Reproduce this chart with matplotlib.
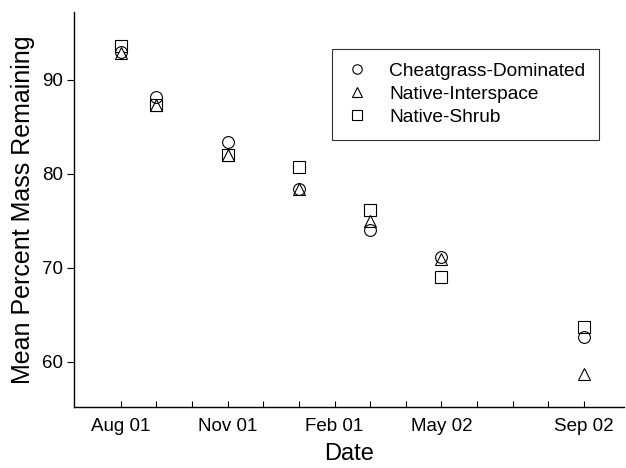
import matplotlib
matplotlib.use("Agg")
import matplotlib.pyplot as plt

plt.rcParams['font.family'] = ['Liberation Sans', 'DejaVu Sans']

# months counted from Aug 2001
months = [0, 1, 3, 5, 7, 9, 13]
cheatgrass = [93.0, 88.2, 83.4, 78.4, 74.0, 71.1, 62.6]
interspace = [92.8, 87.3, 82.0, 78.4, 75.0, 70.9, 58.7]
shrub = [93.6, 87.3, 82.0, 80.7, 76.2, 69.0, 63.7]

tick_months = [0, 3, 6, 9, 13]
tick_labels = ['Aug 01', 'Nov 01', 'Feb 01', 'May 02', 'Sep 02']
minor_months = [1, 2, 4, 5, 7, 8, 10, 11, 12]

fig = plt.figure(figsize=(6.26, 4.68), dpi=100)
ax = fig.add_axes([0.1182, 0.1303, 0.8786, 0.844])

style = dict(linestyle='none', markerfacecolor='white', markeredgecolor='black',
             markeredgewidth=0.8, markersize=8.5)
ax.plot(months, shrub, marker='s', label='Native-Shrub', zorder=3, **style)
ax.plot(months, interspace, marker='^', label='Native-Interspace', zorder=4, **style)
ax.plot(months, cheatgrass, marker='o', label='Cheatgrass-Dominated', zorder=5,
        markerfacecolor='none', markeredgecolor='black', markeredgewidth=0.8,
        markersize=8.5, linestyle='none')

ax.set_xlim(-1.31, 14.12)
ax.set_ylim(55.2, 97.2)

ax.spines['top'].set_visible(False)
ax.spines['right'].set_visible(False)
ax.spines['left'].set_linewidth(1.0)
ax.spines['bottom'].set_linewidth(1.0)

ax.set_xticks(tick_months)
ax.set_xticklabels(tick_labels)
ax.set_xticks(minor_months, minor=True)
ax.tick_params(axis='x', which='both', direction='in', length=4.5, width=0.8,
               labelsize=13.5, pad=8)
ax.set_yticks([60, 70, 80, 90])
ax.tick_params(axis='y', direction='out', length=5, width=0.8,
               labelsize=13.5, pad=3)

ax.set_xlabel('Date', fontsize=17, labelpad=6)
ax.set_ylabel('Mean Percent Mass Remaining', fontsize=18, labelpad=5)

handles, labels = ax.get_legend_handles_labels()
order = [2, 1, 0]
leg = ax.legend([handles[i] for i in order], [labels[i] for i in order],
                loc='upper right', bbox_to_anchor=(599 / 626, 1 - 49 / 468),
                bbox_transform=fig.transFigure, fontsize=13.8, markerscale=0.8,
                frameon=True, fancybox=False, edgecolor='black',
                labelspacing=0.3, borderpad=0.7, handlelength=1.2,
                handletextpad=1.1, borderaxespad=0)
leg.get_frame().set_linewidth(0.8)

fig.savefig('out.png', dpi=100)
